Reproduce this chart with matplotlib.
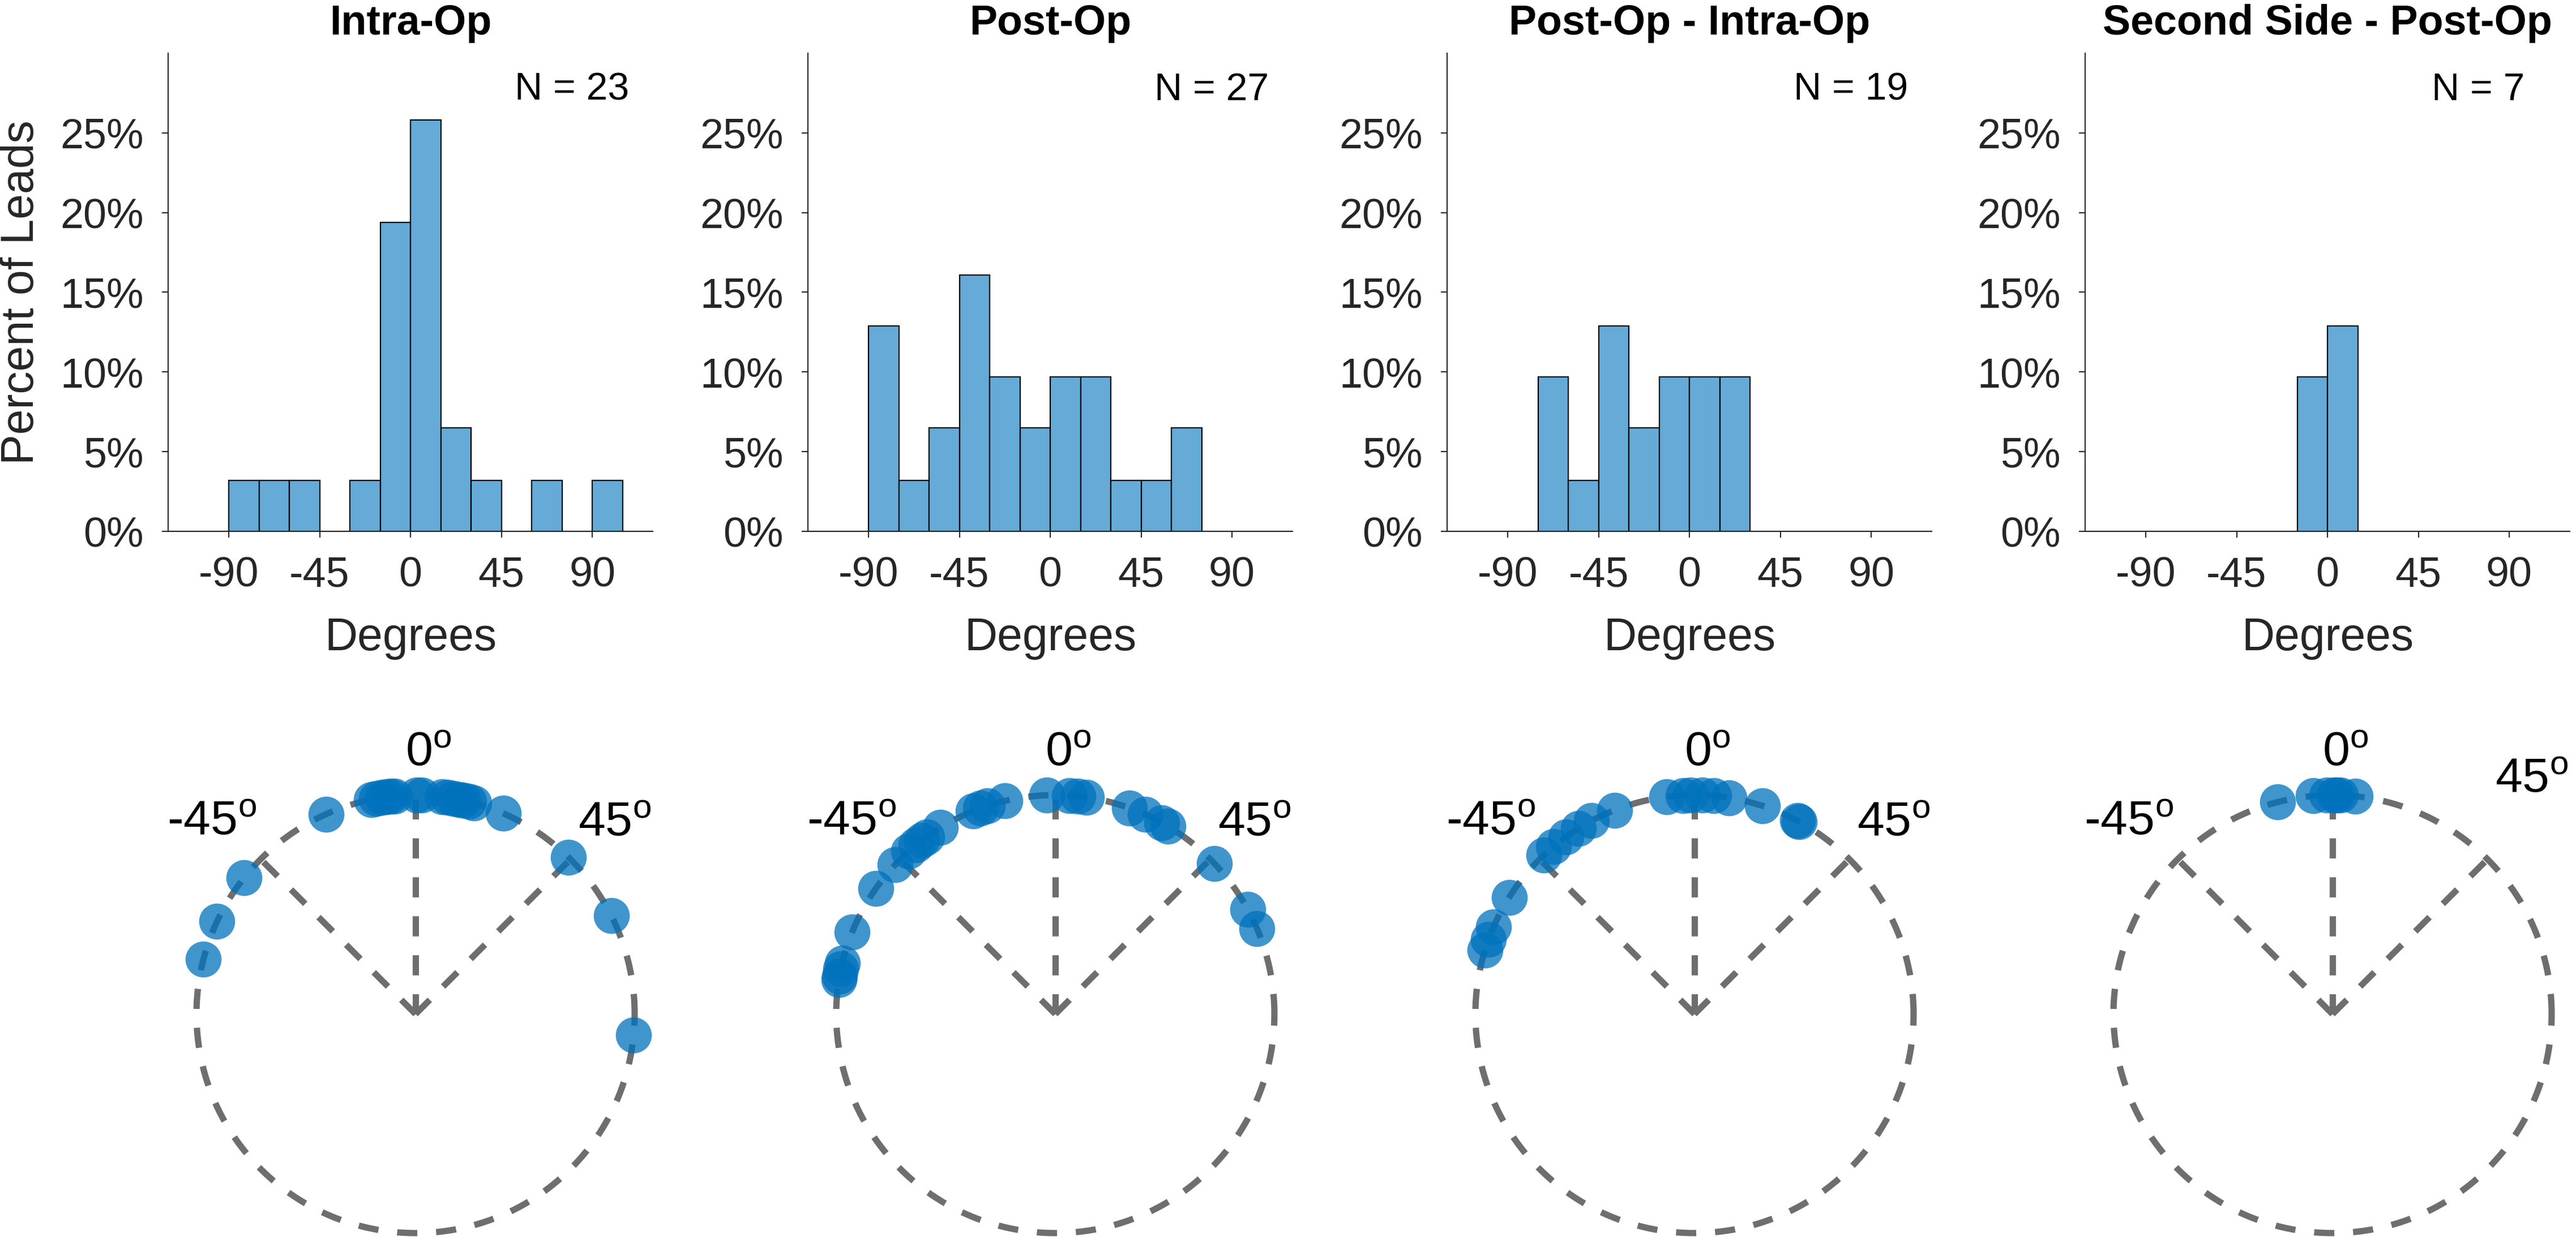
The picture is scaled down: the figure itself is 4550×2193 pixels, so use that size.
import numpy as np
import matplotlib.pyplot as plt

# figure is 4550 x 2193 px
W, H = 4550, 2193
DPI = 100

plt.rcParams['font.family'] = ['Liberation Sans', 'DejaVu Sans']
plt.rcParams['mathtext.fontset'] = 'custom'
plt.rcParams['mathtext.rm'] = 'Liberation Sans'
plt.rcParams['mathtext.it'] = 'Liberation Sans:italic'
plt.rcParams['mathtext.bf'] = 'Liberation Sans:bold'

# ---- data ----
titles = ["Intra-Op", "Post-Op", "Post-Op - Intra-Op", "Second Side - Post-Op"]
n_leads = [23, 27, 19, 7]

bin_edges = [-120, -105, -90, -75, -60, -45, -30, -15, 0, 15, 30, 45, 60, 75, 90, 105, 120]

# percent of leads per 15 degree bin (-120 .. 120)
pct_intra = [0, 0, 3.2, 3.2, 3.2, 0, 3.2, 19.4, 25.8, 6.5, 3.2, 0, 3.2, 0, 3.2, 0]
pct_post = [0, 0, 12.9, 3.2, 6.5, 16.1, 9.7, 6.5, 9.7, 9.7, 3.2, 3.2, 6.5, 0, 0, 0]
pct_diff = [0, 0, 0, 9.7, 3.2, 12.9, 6.5, 9.7, 9.7, 9.7, 0, 0, 0, 0, 0, 0]
pct_second = [0, 0, 0, 0, 0, 0, 0, 9.7, 12.9, 0, 0, 0, 0, 0, 0, 0]

# lead angles in degrees (0 = up, positive = clockwise)
ang_intra = [-75.5, -65, -51.5, -24.1, -11.7, -10.2, -8.7, -7.5, -6.5, -5.5,
             0.3, 1.7, 7, 8.5, 10, 11.5, 12.5, 14, 15.5, 23.6, 44.3, 63.3, 95.5]
ang_post = [-81, -80, -78, -76.5, -68, -55, -47, -42, -39.5, -37.5, -36, -31.6,
            -22, -20, -18, -13.3, -2.2, 3.7, 6, 8.1, 19.8, 24.2, 29, 31,
            46.6, 61.4, 67]
ang_diff = [-73, -70, -66.5, -57.8, -43.5, -40, -36, -32, -28, -21.4,
            -7.2, -3, -1, 2, 5, 9, 18, 28, 28.5]
ang_second = [-14.5, -5, -1.5, 0.5, 1, 2, 6]

pcts = [pct_intra, pct_post, pct_diff, pct_second]
angles = [ang_intra, ang_post, ang_diff, ang_second]

xticks = [-90, -45, 0, 45, 90]
xtick_labels = ["-90", "-45", "0", "45", "90"]
yticks = [0, 5, 10, 15, 20, 25]
ytick_labels = ["0%", "5%", "10%", "15%", "20%", "25%"]
spoke_angles = [-45, 0, 45]

# ---- layout (pixels) ----
hist_left = [297, 1427, 2556, 3683]
hist_w = 856
hist_top, hist_bot = 94, 939
R = 387          # circle radius in px
circ_cy = 1792
AXC = "#262626"
BAR = "#66AAD7"
DOT = "#0072BD"
DASH = "#6e6e6e"

fig = plt.figure(figsize=(W / DPI, H / DPI), dpi=DPI)

for i in range(4):
    ax = fig.add_axes([hist_left[i] / W, 1 - hist_bot / H,
                       hist_w / W, (hist_bot - hist_top) / H])
    ax.bar(bin_edges[:-1], pcts[i], width=15, align="edge",
           color=BAR, edgecolor="black", linewidth=1.6, zorder=2)
    ax.set_xlim(-120, 120)
    ax.set_ylim(0, 30)
    ax.set_xticks(xticks)
    ax.set_xticklabels(xtick_labels)
    ax.set_yticks(yticks)
    ax.set_yticklabels(ytick_labels)
    for s in ["top", "right"]:
        ax.spines[s].set_visible(False)
    for s in ["left", "bottom"]:
        ax.spines[s].set_color(AXC)
        ax.spines[s].set_linewidth(1.5)
    ax.tick_params(direction="out", length=8, width=1.5, colors=AXC,
                   labelsize=53, pad=23)
    ax.set_title(titles[i], fontsize=53, fontweight="bold", pad=24)
    ax.text(0.715, 0.902, f"N = {n_leads[i]}", transform=ax.transAxes,
            ha="left", va="baseline", fontsize=49, color="black")
    ax.set_xlabel("Degrees", fontsize=58, color=AXC)
    ax.xaxis.label.set_va("center")
    ax.xaxis.set_label_coords(0.5, -0.224)
    if i == 0:
        ax.set_ylabel("Percent of Leads", fontsize=58, color=AXC)
        ax.yaxis.label.set_va("center")
        ax.yaxis.set_label_coords(-0.303, 0.5)

    # ---- circular plot below ----
    cx = hist_left[i] + hist_w / 2 + 9
    pa = fig.add_axes([(cx - 1.45 * R) / W, 1 - (circ_cy + 1.03 * R) / H,
                       2.9 * R / W, 2.48 * R / H])
    pa.set_xlim(-1.45, 1.45)
    pa.set_ylim(-1.03, 1.45)
    pa.axis("off")

    t = np.linspace(0, 2 * np.pi, 721)
    dash = dict(color=DASH, lw=8, linestyle=(0, (3.2, 3.0)),
                dash_capstyle="butt", zorder=1)
    pa.plot(np.cos(t), np.sin(t), **dash)
    for a in spoke_angles:
        r = np.deg2rad(a)
        pa.plot([0, np.sin(r)], [0, np.cos(r)], **dash)

    rad = np.deg2rad(angles[i])
    pa.scatter(np.sin(rad), np.cos(rad), s=2100, color=DOT, alpha=0.75,
               linewidths=0, zorder=3)

    pa.text(0.06, 1.19, r"0$^{\rm o}$", ha="center", va="center",
            fontsize=62, clip_on=False)
    pa.text(-0.93, 0.875, r"-45$^{\rm o}$", ha="center", va="center",
            fontsize=62, clip_on=False)
    y45 = 1.07 if i == 3 else 0.87
    pa.text(0.91, y45, r"45$^{\rm o}$", ha="center", va="center",
            fontsize=62, clip_on=False)

fig.savefig("out.png", dpi=DPI)
